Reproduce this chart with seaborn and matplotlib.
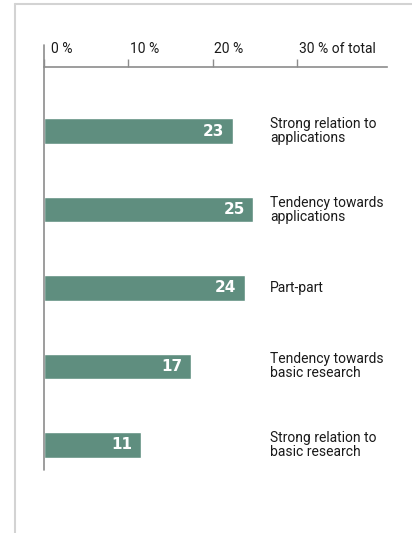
import matplotlib
matplotlib.use("Agg")
import matplotlib.pyplot as plt
from matplotlib.lines import Line2D
import seaborn as sns
import pandas as pd

categories = ["Strong relation to\napplications", "Tendency towards\napplications",
              "Part-part", "Tendency towards\nbasic research", "Strong relation to\nbasic research"]
values = [22.4, 24.8, 23.8, 17.4, 11.5]
value_labels = ["23", "25", "24", "17", "11"]
tick_values = [0, 10, 20, 30]
tick_labels = ["0 %", "10 %", "20 %", "30 % of total"]

sns.set_theme(style="white")
narrow = ["Liberation Sans Narrow", "Roboto", "DejaVu Sans"]
plt.rcParams["font.family"] = narrow

W, H = 412, 533
fig = plt.figure(figsize=(W / 100, H / 100), dpi=100)
fig.patch.set_facecolor("white")

# axes: x from 44 to 387 px, y from 66.7 to 470 px
left, right, top, bottom = 44, 387, 66.7, 470
ax = fig.add_axes([left / W, 1 - bottom / H, (right - left) / W, (bottom - top) / H])

df = pd.DataFrame({"category": categories, "value": values})
sns.barplot(data=df, x="value", y="category", orient="h", width=0.325,
            color="#5f8e7f", saturation=1, ax=ax, zorder=2)

ax.set_xlim(0, (right - left) / 8.43)
ax.set_ylim(4.32, -0.82)
ax.set_xlabel("")
ax.set_ylabel("")
ax.set_yticks([])

for s in ["right", "bottom", "left"]:
    ax.spines[s].set_visible(False)
ax.spines["top"].set_color("#8c8c8c")
ax.spines["top"].set_linewidth(1.2)

ax.xaxis.tick_top()
ax.set_xticks(tick_values)
ax.set_xticklabels([""] * len(tick_values))
ax.tick_params(axis="x", direction="out", length=6, width=1.0, color="#8c8c8c", top=True, bottom=False)

# tick labels placed to the right of ticks
for v, lab in zip(tick_values, tick_labels):
    dx = 0.8 if v == 0 else 0.22
    ax.text(v + dx, -0.82 - 0.14, lab, ha="left", va="bottom", fontsize=10,
            color="#1a1a1a", family=narrow)

# vertical axis line extending above the top axis line
ax.axvline(0, ymin=0, ymax=1 + 22 / (bottom - top), color="#8c8c8c", lw=1.2, clip_on=False, zorder=3)

# value labels inside bars
container = ax.containers[0]
texts = ax.bar_label(container, labels=value_labels, padding=-6, color="white",
                     fontsize=11, fontweight="heavy", family="DejaVu Sans")
for t in texts:
    t.set_ha("right")

# category labels
for i, c in enumerate(categories):
    ax.text((270 - left) / 8.43, i, c, ha="left", va="center", fontsize=10,
            color="#1a1a1a", linespacing=1.0, family=narrow)

# light frame
fig.add_artist(Line2D([15 / W, 15 / W], [0, 1 - 3.5 / H], transform=fig.transFigure,
                      color="#d3d3d3", lw=1.5))
fig.add_artist(Line2D([15 / W, 1], [1 - 3.5 / H, 1 - 3.5 / H], transform=fig.transFigure,
                      color="#d3d3d3", lw=1.5))

fig.savefig("out.png", dpi=100, facecolor="white")
